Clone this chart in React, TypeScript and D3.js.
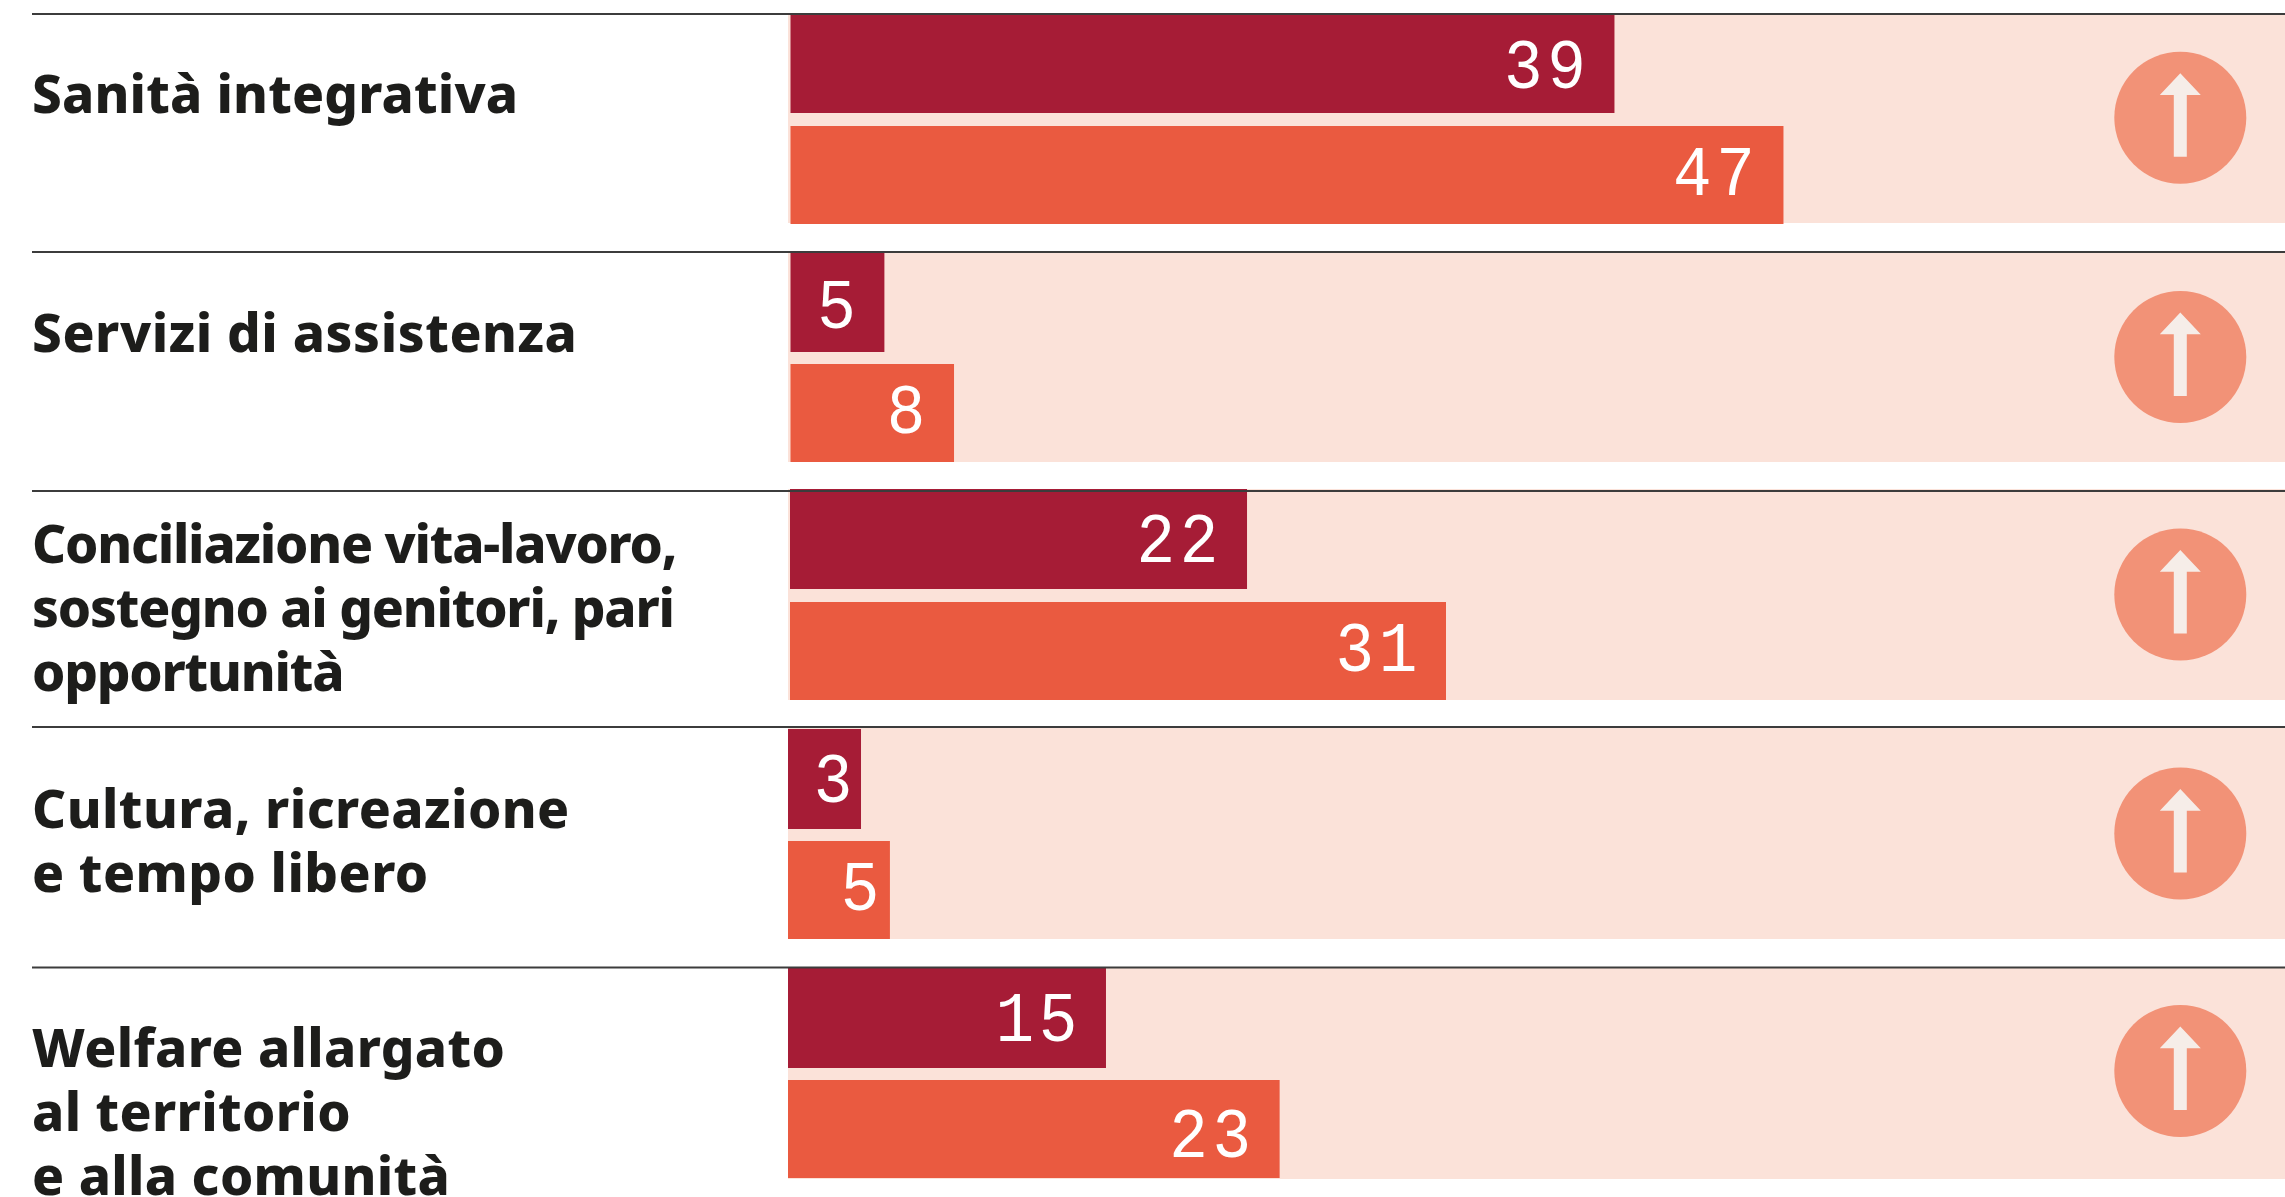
import React from "react";
import * as d3 from "d3";

// ---- data ----
const categories = [
  ["Sanità integrativa"],
  ["Servizi di assistenza"],
  ["Conciliazione vita-lavoro,", "sostegno ai genitori, pari", "opportunità"],
  ["Cultura, ricreazione", "e tempo libero"],
  ["Welfare allargato", "al territorio", "e alla comunità"],
];
const darkLabels = ["39", "5", "22", "3", "15"];
const orangeLabels = ["47", "8", "31", "5", "23"];
// bar lengths as measured (the printed labels are rounded)
const darkValues = [39.05, 4.45, 21.66, 3.46, 15.07];
const orangeValues = [47.06, 7.75, 31.09, 4.83, 23.3];

// ---- layout ----
const W = 2285;
const H = 1197;
const ruleY = [14, 252, 491, 727, 967.5];
const panelTop = [13, 252, 489, 728, 968];
const panelBottom = [223, 462, 700, 939, 1179];
const darkTop = [13, 252, 489, 729, 968];
const darkBottom = [113, 352, 589, 829, 1068];
const orangeTop = [126, 364, 602, 841, 1080];
const orangeBottom = [224, 462, 700, 939, 1178];
const barStart = [790.5, 790.5, 790, 788, 788];
const darkBase = [88, 328, 562, 802, 1041];
const orangeBase = [195, 433, 671, 910, 1157];
const darkGap = [24, 24, 24, 4, 24];
const orangeGap = [24, 24, 24, 6, 24];
const textBase = [113, 352, 563, 828, 1067];
const textSpacing = [0.16, 0.55, -1.2, 0.45, 0.35];
const circleY = [117.7, 357, 594.5, 833.5, 1071];
const LINE = 64;

const x = d3.scaleLinear().domain([0, 47]).range([0, 991.7]);

const arrowPath = (cx: number, cy: number) => {
  const p = d3.path();
  p.moveTo(cx, cy - 44.4);
  p.lineTo(cx + 20.5, cy - 22.7);
  p.lineTo(cx + 6.5, cy - 22.7);
  p.lineTo(cx + 6.5, cy + 39);
  p.lineTo(cx - 6.5, cy + 39);
  p.lineTo(cx - 6.5, cy - 22.7);
  p.lineTo(cx - 20.5, cy - 22.7);
  p.closePath();
  return p.toString();
};

const numStyle = {
  fontFamily: "'Liberation Mono'",
  fontSize: 70,
  fill: "#ffffff",
  textAnchor: "end" as const,
  letterSpacing: 5,
};

const Num = ({ tx, ty, t }: { tx: number; ty: number; t: string }) => (
  <text transform={`translate(${tx},${ty}) scale(0.92,1)`} style={numStyle}>{t}</text>
);

export default function App() {
  return (
    <svg
      width={W}
      height={H}
      viewBox={`0 0 ${W} ${H}`}
      style={{ position: "absolute", left: 0, top: 0, display: "block", background: "#fff" }}
    >
      {categories.map((lines, i) => (
        <g key={i}>
          <rect x={788} y={panelTop[i]} width={W - 788} height={panelBottom[i] - panelTop[i]} fill="#fbe2d9" />
          <rect x={barStart[i]} y={darkTop[i]} width={x(darkValues[i])} height={darkBottom[i] - darkTop[i]} fill="#a61c36" />
          <rect x={barStart[i]} y={orangeTop[i]} width={x(orangeValues[i])} height={orangeBottom[i] - orangeTop[i]} fill="#ea5a40" />
          <line x1={32} x2={W} y1={ruleY[i]} y2={ruleY[i]} stroke="#3c3c3c" strokeWidth={1.8} />
          <Num tx={barStart[i] + x(darkValues[i]) - darkGap[i]} ty={darkBase[i]} t={darkLabels[i]} />
          <Num tx={barStart[i] + x(orangeValues[i]) - orangeGap[i]} ty={orangeBase[i]} t={orangeLabels[i]} />
          <circle cx={2180.3} cy={circleY[i]} r={66} fill="#f29277" />
          <path d={arrowPath(2180.3, circleY[i])} fill="#f6ede8" />
          {lines.map((t, j) => (
            <text
              key={j}
              x={32}
              y={textBase[i] + j * LINE}
              style={{ fontFamily: "'Noto Sans'", fontWeight: 800, fontSize: 53, fill: "#1d1d1b", letterSpacing: textSpacing[i] }}
            >
              {t}
            </text>
          ))}
        </g>
      ))}
    </svg>
  );
}
